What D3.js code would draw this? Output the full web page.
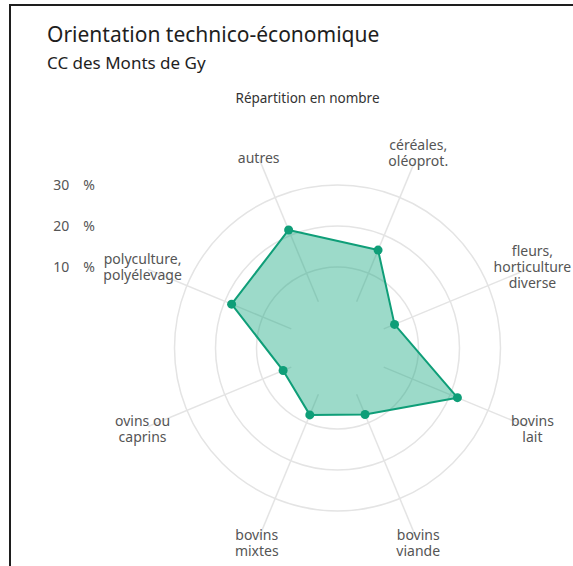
<!DOCTYPE html>
<html>
<head>
<meta charset="utf-8">
<script src="https://cdn.jsdelivr.net/npm/d3@7"></script>
<style>
  html, body { margin: 0; padding: 0; background: #fff; }
  svg { display: block; font-family: "Noto Sans", "Open Sans", sans-serif; font-variant-ligatures: none; }
</style>
</head>
<body>
<svg id="chart" width="573" height="566"></svg>
<script>
// ---- data ----
const categories = [
  "céréales,\noléoprot.",
  "fleurs,\nhorticulture\ndiverse",
  "bovins\nlait",
  "bovins\nviande",
  "bovins\nmixtes",
  "ovins ou\ncaprins",
  "polyculture,\npolyélevage",
  "autres"
];
const values = [16.1, 5.3, 21.9, 7.8, 7.9, 4.6, 18.2, 21.4];
const radialTicks = [10, 20, 30];
const tickLabels = ["10 %", "20 %", "30 %"];
const title = "Orientation technico-économique";
const subtitle = "CC des Monts de Gy";
const caption = "Répartition en nombre";

// ---- layout ----
const svg = d3.select("#chart");
const cx = 337.5, cy = 348;
const r = d3.scaleLinear().domain([0, 30]).range([40, 163]);
const angle = d3.scalePoint().domain(d3.range(categories.length))
  .range([Math.PI / 8, Math.PI / 8 + 2 * Math.PI * (categories.length - 1) / categories.length]);

const gray = "#e4e4e4";
const teal = "#0f9e78";

// frame (top and left edges)
svg.append("line").attr("x1", 10).attr("x2", 573).attr("y1", 5).attr("y2", 5)
  .attr("stroke", "#1e1e1e").attr("stroke-width", 2);
svg.append("line").attr("x1", 10).attr("x2", 10).attr("y1", 4).attr("y2", 566)
  .attr("stroke", "#1e1e1e").attr("stroke-width", 2);

// titles
svg.append("text").attr("x", 47).attr("y", 42).text(title)
  .attr("font-size", 21).attr("fill", "#1e1e1e");
svg.append("text").attr("x", 47).attr("y", 69).text(subtitle)
  .attr("font-size", 17).attr("fill", "#1e1e1e");
svg.append("text").attr("x", 307.5).attr("y", 103).text(caption)
  .attr("font-size", 13.5).attr("fill", "#333").attr("text-anchor", "middle");

const g = svg.append("g").attr("transform", `translate(${cx},${cy})`);

// grid circles
g.selectAll("circle.grid").data(radialTicks).join("circle")
  .attr("class", "grid").attr("r", d => r(d))
  .attr("fill", "none").attr("stroke", gray).attr("stroke-width", 1.5);

// axis spokes
const pt = (i, rad) => [Math.sin(angle(i)) * rad, -Math.cos(angle(i)) * rad];
g.selectAll("line.spoke").data(categories).join("line")
  .attr("class", "spoke")
  .attr("x1", (d, i) => pt(i, 50)[0]).attr("y1", (d, i) => pt(i, 50)[1])
  .attr("x2", (d, i) => pt(i, 205)[0]).attr("y2", (d, i) => pt(i, 205)[1])
  .attr("stroke", gray).attr("stroke-width", 1.5);

// radial tick labels (left side)
svg.selectAll("text.rtick").data(radialTicks).join("text")
  .attr("class", "rtick")
  .attr("x", 95).attr("y", d => cy - r(d) + 5)
  .attr("text-anchor", "end").attr("font-size", 14).attr("fill", "#555")
  .text((d, i) => tickLabels[i].replace(" ", "\u2003"));

// polygon
const line = d3.lineRadial().angle((d, i) => angle(i)).radius(d => r(d)).curve(d3.curveLinearClosed);
g.append("path").datum(values).attr("d", line)
  .attr("fill", "#13a87f").attr("fill-opacity", 0.42)
  .attr("stroke", teal).attr("stroke-width", 2).attr("stroke-linejoin", "round");

g.selectAll("circle.dot").data(values).join("circle")
  .attr("class", "dot")
  .attr("cx", (d, i) => pt(i, r(d))[0]).attr("cy", (d, i) => pt(i, r(d))[1])
  .attr("r", 4.5).attr("fill", teal);

// category labels
const lh = 16;
categories.forEach((c, i) => {
  const lines = c.split("\n");
  const [x, y] = pt(i, lines.length === 1 ? 206 : 211);
  const t = g.append("text").attr("text-anchor", "middle").attr("font-size", 14).attr("fill", "#555");
  lines.forEach((l, j) => {
    t.append("tspan").attr("x", x)
      .attr("y", y + (j - (lines.length - 1) / 2) * lh + 5)
      .text(l);
  });
});
</script>
</body>
</html>
